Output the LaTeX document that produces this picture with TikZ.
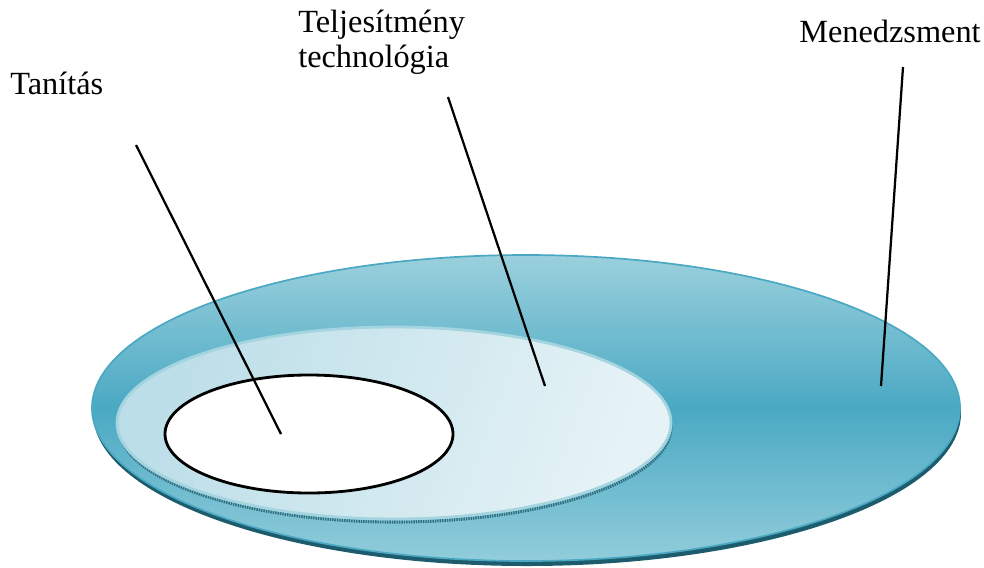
\documentclass[tikz,border=0pt]{standalone}
\usepackage{fontspec}
\setmainfont{Liberation Serif}
\usetikzlibrary{positioning}
\definecolor{DiscRim}{HTML}{1D5C6C}
\definecolor{DiscEdge}{HTML}{4AA8C2}
\definecolor{DiscMid}{HTML}{4AA9C3}
\definecolor{DiscTop}{HTML}{9BD0DD}
\definecolor{DiscLow}{HTML}{92CDDB}
\definecolor{CoreLeft}{HTML}{BCDEE8}
\definecolor{CoreRight}{HTML}{E6F3F6}
\definecolor{CoreEdge}{HTML}{A4D4E0}
\definecolor{CoreRim}{HTML}{2F6E7E}
\tikzset{
  tag/.style={anchor=base west,inner sep=0pt,align=left,
    font=\fontsize{23}{24.2}\selectfont},
  leader/.style={draw=black,line width=1.6pt},
  rim/.style={fill=DiscRim},
  outerdisc/.style={top color=DiscTop,bottom color=DiscLow,middle color=DiscMid,
    draw=DiscEdge,line width=1.2pt},
  corerim/.style={draw=CoreRim,line width=2.2pt,dash pattern=on 1pt off 0.7pt},
  coredisc/.style={left color=CoreLeft,right color=CoreRight,shading angle=70,
    draw=CoreEdge,line width=2pt},
  hole/.style={fill=white,draw=black,line width=2pt}
}

\begin{document}
\begin{tikzpicture}[x=0.025cm,y=-0.025cm]
  \useasboundingbox (0,0) rectangle (984,567);
  \coordinate (disc) at (526,408);
  \coordinate (core) at (394,423);
  \coordinate (centre) at (309,434);
  % plates
  \path[rim] ([shift={(1,5)}]disc) ellipse [x radius=434, y radius=153];
  \path[outerdisc] (disc) ellipse [x radius=434, y radius=153];
  \path[corerim] ([shift={(1,4)}]core) ellipse [x radius=276, y radius=95];
  \path[coredisc] (core) ellipse [x radius=277, y radius=96];
  \path[hole] (centre) ellipse [x radius=144, y radius=59];
  % labels
  \node[tag] (tanitas) at (10,94) {Tanítás};
  \node[tag] (telj) at (298,67) {Teljesítmény\\technológia};
  \node[tag] (men) at (799,42) {Menedzsment};
  \coordinate (tanitas-a) at (136,145);
  \coordinate (tanitas-b) at (281,434);
  \coordinate (telj-a) at (448,97);
  \coordinate (telj-b) at (545,386);
  \coordinate (men-a) at (903,67);
  \coordinate (men-b) at (881,386);
  \draw[leader] (tanitas-a) -- (tanitas-b);
  \draw[leader] (telj-a) -- (telj-b);
  \draw[leader] (men-a) -- (men-b);
\end{tikzpicture}
\end{document}
